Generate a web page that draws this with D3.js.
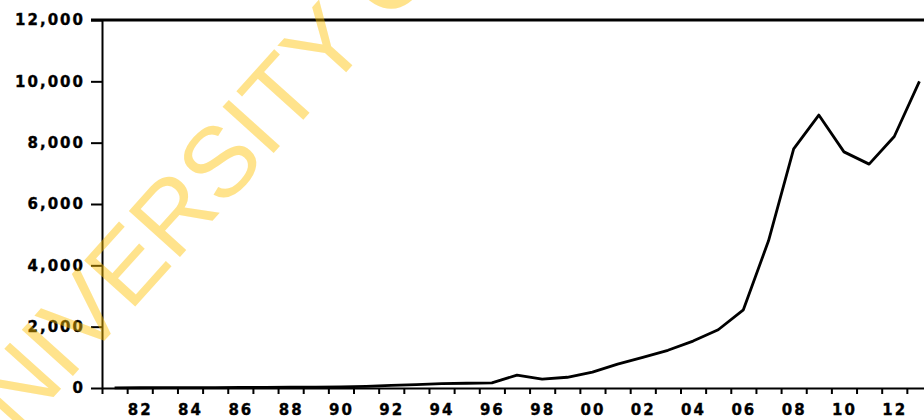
<!DOCTYPE html>
<html>
<head>
<meta charset="utf-8">
<script src="https://cdn.jsdelivr.net/npm/d3@7"></script>
<style>
  html, body { margin: 0; padding: 0; background: #fff; overflow: hidden; }
  svg { display: block; }
</style>
</head>
<body>
<svg id="chart" width="924" height="420"></svg>
<script>
// Annual observations, 1981–2013
const years = [1981, 1982, 1983, 1984, 1985, 1986, 1987, 1988, 1989, 1990,
               1991, 1992, 1993, 1994, 1995, 1996, 1997, 1998, 1999, 2000,
               2001, 2002, 2003, 2004, 2005, 2006, 2007, 2008, 2009, 2010,
               2011, 2012, 2013];
const values = [5, 8, 10, 12, 15, 18, 22, 25, 30, 35,
                55, 85, 110, 140, 155, 170, 420, 290, 350, 520,
                780, 1000, 1230, 1530, 1900, 2550, 4800, 7800, 8900, 7700,
                7300, 8200, 10000];

// Axis ticks and labels
const yTicks = [0, 2000, 4000, 6000, 8000, 10000, 12000];
const yearTicks = [1981, 1982, 1983, 1984, 1985, 1986, 1987, 1988, 1989, 1990,
                   1991, 1992, 1993, 1994, 1995, 1996, 1997, 1998, 1999, 2000,
                   2001, 2002, 2003, 2004, 2005, 2006, 2007, 2008, 2009, 2010,
                   2011, 2012, 2013, 2014];
const labelYears = [1982, 1984, 1986, 1988, 1990, 1992, 1994, 1996, 1998, 2000,
                    2002, 2004, 2006, 2008, 2010, 2012];
const watermarkText = "UNIVERSITY OF";

const svg = d3.select("#chart");
const plot = { left: 102, top: 20, bottom: 388, right: 932 };

const x = d3.scaleLinear().domain([1981, 2014]).range([plot.left, plot.right]);
const y = d3.scaleLinear().domain([0, 12000]).range([plot.bottom, plot.top]);

const labelFont = { family: "'DejaVu Sans', Verdana, sans-serif", size: "15px", weight: "bold", spacing: "2px" };

function styleLabels(sel) {
  sel.selectAll("text")
    .attr("fill", "#000")
    .attr("stroke", "#000")
    .attr("stroke-width", 0.35)
    .style("font-family", labelFont.family)
    .style("font-size", labelFont.size)
    .style("font-weight", labelFont.weight)
    .style("letter-spacing", labelFont.spacing);
}

// Left axis with outward ticks
const gy = svg.append("g")
  .attr("transform", `translate(${plot.left},0)`)
  .call(d3.axisLeft(y).tickValues(yTicks).tickSize(11).tickSizeOuter(0)
    .tickPadding(6).tickFormat(d3.format(",")));
gy.select(".domain").attr("stroke", "#000").attr("stroke-width", 2);
gy.selectAll(".tick line").attr("stroke", "#000").attr("stroke-width", 2);
styleLabels(gy);

// Bottom axis: one tick at each year boundary
const gx = svg.append("g")
  .attr("transform", `translate(0,${plot.bottom})`)
  .call(d3.axisBottom(x).tickValues(yearTicks).tickSize(6).tickSizeOuter(0).tickFormat(""));
gx.select(".domain").attr("stroke", "#000").attr("stroke-width", 2);
gx.selectAll(".tick line").attr("stroke", "#000").attr("stroke-width", 2);

// Year labels centred within each year interval
const gxl = svg.append("g")
  .attr("transform", `translate(0,${plot.bottom})`)
  .call(d3.axisBottom(x).tickValues(labelYears.map(d => d + 0.5)).tickSize(0)
    .tickPadding(16).tickFormat(d => String(Math.floor(d) % 100).padStart(2, "0")));
gxl.select(".domain").remove();
styleLabels(gxl);

// Top frame line
svg.append("line")
  .attr("x1", plot.left - 11).attr("x2", plot.right)
  .attr("y1", y(12000)).attr("y2", y(12000))
  .attr("stroke", "#000").attr("stroke-width", 3);

// Series line, observations plotted at mid-year
const series = years.map((yr, i) => ({ year: yr, value: values[i] }));
svg.append("path")
  .datum(series)
  .attr("fill", "none")
  .attr("stroke", "#000")
  .attr("stroke-width", 2.8)
  .attr("stroke-linejoin", "round")
  .attr("d", d3.line().x(d => x(d.year + 0.5)).y(d => y(d.value)));

// Diagonal watermark over the chart
svg.append("text")
  .attr("transform", "translate(-30,490) rotate(-48)")
  .attr("x", 0).attr("y", 0)
  .attr("fill", "#FFC000")
  .attr("fill-opacity", 0.45)
  .style("font-family", "'Liberation Sans', Arial, sans-serif")
  .style("font-size", "100px")
  .text(watermarkText);
</script>
</body>
</html>
